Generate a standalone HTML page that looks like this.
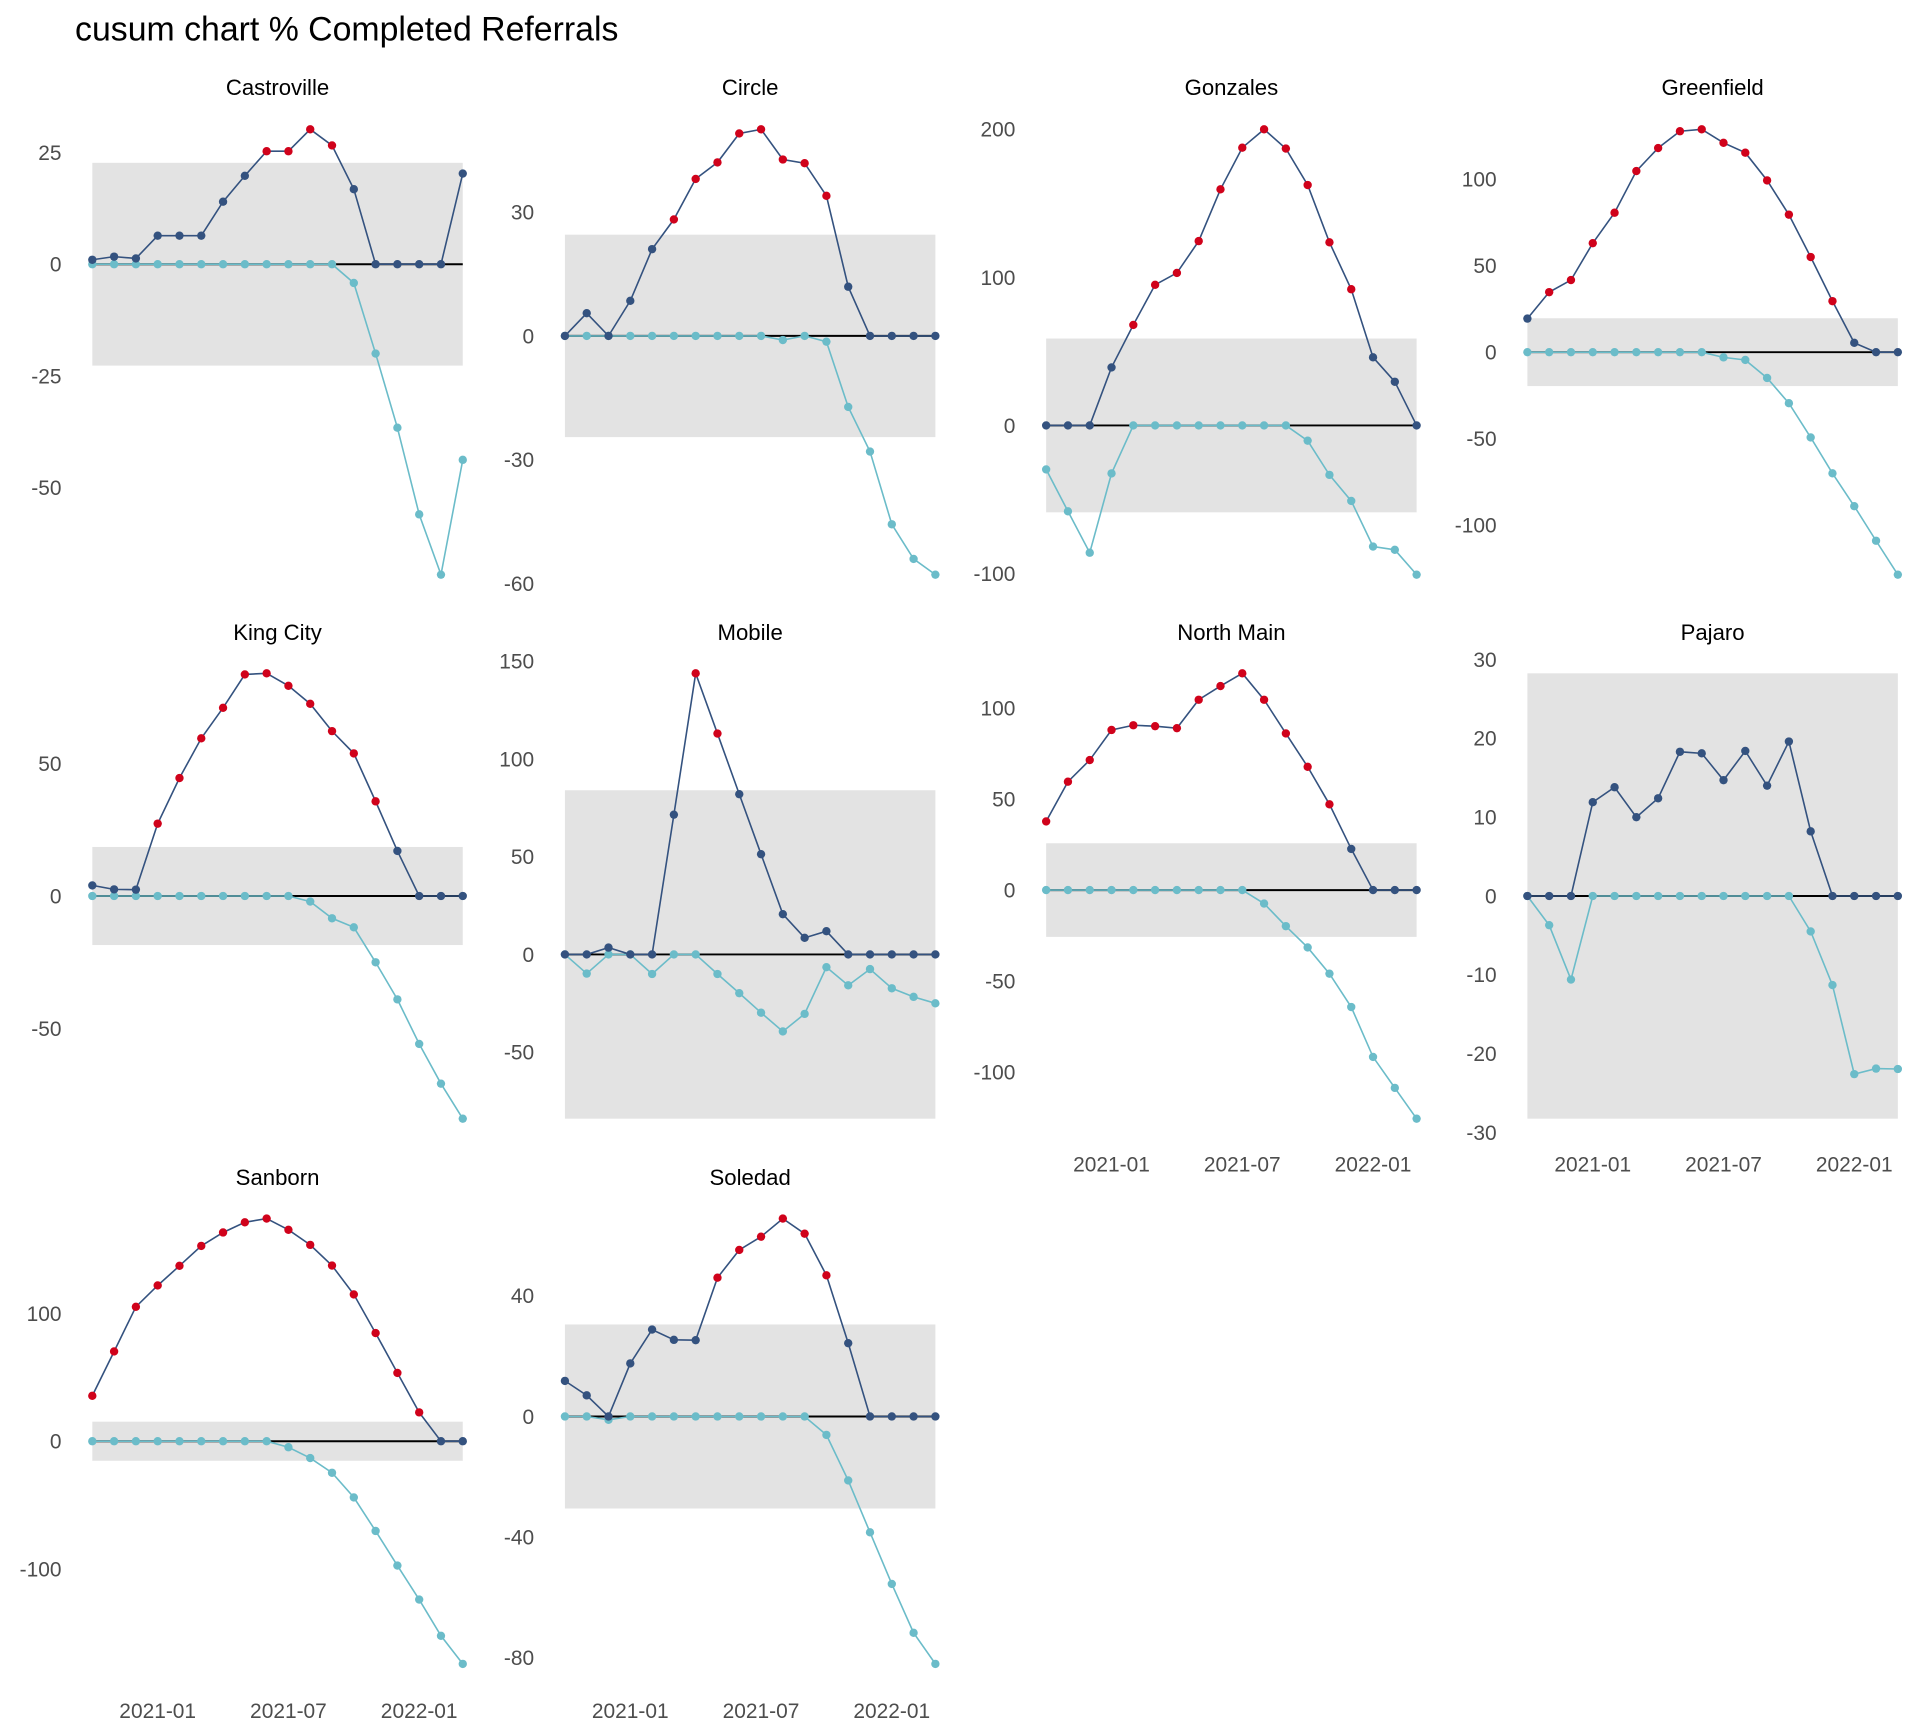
<!DOCTYPE html>
<html><head><meta charset="utf-8"><style>
html,body{margin:0;padding:0;background:#fff}
svg{display:block}
text{font-family:"Liberation Sans",Arial,sans-serif}
</style></head><body>
<svg id="chart" width="1920" height="1728" viewBox="0 0 1560 1404" xmlns="http://www.w3.org/2000/svg">
<rect width="1560" height="1404" fill="#fff"/>
<text x="61" y="33" font-size="27.5" fill="#000">cusum chart % Completed Referrals</text>
</svg>
<script>
const months = ["2020-10","2020-11","2020-12","2021-01","2021-02","2021-03","2021-04","2021-05","2021-06","2021-07","2021-08","2021-09","2021-10","2021-11","2021-12","2022-01","2022-02","2022-03"];
const xTickLabels = ["2021-01","2021-07","2022-01"];
const xTickIndex = [3,9,15];
const panelNames = ["Castroville","Circle","Gonzales","Greenfield","King City","Mobile","North Main","Pajaro","Sanborn","Soledad"];
const limits = [22.7,24.5,58.7,19.6,18.5,84,25.7,28.25,15.3,30.5];
const upperCastroville = [1,1.7,1.3,6.4,6.4,6.4,14,19.8,25.3,25.3,30.2,26.6,16.8,0,0,0,0,20.3];
const lowerCastroville = [0,0,0,0,0,0,0,0,0,0,0,0,-4.2,-20,-36.6,-56,-69.5,-43.8];
const upperCircle = [0,5.5,0,8.5,21,28.2,38,42,49,50,42.7,41.8,33.9,11.9,0,0,0,0];
const lowerCircle = [0,0,0,0,0,0,0,0,0,0,-1,0,-1.4,-17.2,-28,-45.6,-54,-57.8];
const upperGonzales = [0,0,0,39.2,67.9,95,103,124.5,159.5,187.6,200,187,162.4,123.7,92,46,29.5,0];
const lowerGonzales = [-29.7,-58,-86,-32.4,0,0,0,0,0,0,0,0,-10.3,-33.4,-51,-81.8,-84,-100.8];
const upperGreenfield = [19.4,34.7,41.7,63,80.6,104.7,118,127.7,128.8,121,115.3,99.3,79.5,55,29.5,5.4,0,0];
const lowerGreenfield = [0,0,0,0,0,0,0,0,0,-3,-4.5,-14.9,-29.5,-49.3,-70,-89,-109,-128.6];
const upperKingCity = [4,2.5,2.4,27.3,44.5,59.5,71,83.6,84,79.3,72.5,62.2,53.8,35.7,17,0,0,0];
const lowerKingCity = [0,0,0,0,0,0,0,0,0,0,-2.1,-8.4,-11.8,-25,-39,-55.8,-70.8,-84];
const upperMobile = [0,0,3.5,0,0,71.5,143.8,113,82,51.3,20.6,8.5,11.9,0,0,0,0,0];
const lowerMobile = [0,-9.8,0,0,-10,0,0,-10,-19.8,-29.8,-39.4,-30.4,-6.5,-15.8,-7.5,-17.3,-21.7,-25];
const upperNorthMain = [37.7,59.5,71.4,87.9,90.5,90,88.9,104.5,112,119,104.5,86,67.7,47.1,22.6,0,0,0];
const lowerNorthMain = [0,0,0,0,0,0,0,0,0,0,-7.4,-19.8,-31.5,-45.9,-64.2,-91.6,-108.6,-125.5];
const upperPajaro = [0,0,0,11.9,13.8,10,12.4,18.3,18.1,14.7,18.4,14,19.6,8.2,0,0,0,0];
const lowerPajaro = [0,-3.7,-10.6,0,0,0,0,0,0,0,0,0,0,-4.5,-11.3,-22.6,-21.9,-21.95];
const upperSanborn = [35.6,70.3,105.3,122,137.4,153,163.5,171.5,174.4,165.6,153.8,137.6,115,84.7,53.5,22.6,0,0];
const lowerSanborn = [0,0,0,0,0,0,0,0,0,-4.7,-13.2,-24.7,-44,-70.3,-97.4,-124,-152.4,-174.4];
const upperSoledad = [11.8,7,0,17.6,28.8,25.4,25.3,46,55.2,59.6,65.6,60.6,46.8,24.3,0,0,0,0];
const lowerSoledad = [0,0,-1.1,0,0,0,0,0,0,0,0,0,-6.1,-21.2,-38.4,-55.5,-71.7,-82];
const yTicksCastroville = [25,0,-25,-50];
const yTicksCircle = [30,0,-30,-60];
const yTicksGonzales = [200,100,0,-100];
const yTicksGreenfield = [100,50,0,-50,-100];
const yTicksKingCity = [50,0,-50];
const yTicksMobile = [150,100,50,0,-50];
const yTicksNorthMain = [100,50,0,-50,-100];
const yTicksPajaro = [30,20,10,0,-10,-20,-30];
const yTicksSanborn = [100,0,-100];
const yTicksSoledad = [40,0,-40,-80];

const uppers=[upperCastroville,upperCircle,upperGonzales,upperGreenfield,upperKingCity,upperMobile,upperNorthMain,upperPajaro,upperSanborn,upperSoledad];
const lowers=[lowerCastroville,lowerCircle,lowerGonzales,lowerGreenfield,lowerKingCity,lowerMobile,lowerNorthMain,lowerPajaro,lowerSanborn,lowerSoledad];
const yticks=[yTicksCastroville,yTicksCircle,yTicksGonzales,yTicksGreenfield,yTicksKingCity,yTicksMobile,yTicksNorthMain,yTicksPajaro,yTicksSanborn,yTicksSoledad];

const NS="http://www.w3.org/2000/svg";
const svg=document.getElementById('chart');
const colX=[75,459,850,1241], colW=301;
const rowTop=[87,529,972], rowH=398, titleY=[77,520,963];
const xLabelRow=[null,952,1396];
function mk(tag,attrs,parent){const e=document.createElementNS(NS,tag);for(const k in attrs)e.setAttribute(k,attrs[k]);(parent||svg).appendChild(e);return e;}
function slug(s){return s.toLowerCase().replace(/\s+/g,'-');}

panelNames.forEach((name,p)=>{
  const r=Math.floor(p/4), c=p%4;
  const x0=colX[c], top=rowTop[r];
  const up=uppers[p], lo=lowers[p], L=limits[p];
  let mx=Math.max(L,...up,...lo), mn=Math.min(-L,...up,...lo);
  const pad=(mx-mn)*0.05; mx+=pad; mn-=pad;
  const xs=i=>x0+i*colW/(months.length-1);
  const ys=v=>top+(mx-v)/(mx-mn)*rowH;
  const g=mk('g',{});
  
  
  const t=mk('text',{x:x0+colW/2,y:titleY[r],'font-size':18,'text-anchor':'middle',fill:'#000'},g);
  t.textContent=name;
  
  
  const band=mk('rect',{x:xs(0),y:ys(L),width:colW,height:ys(-L)-ys(L),fill:'#e3e3e3'},g);
  
  
  yticks[p].forEach(v=>{
    const tl=mk('text',{x:x0-25,y:ys(v)+6,'font-size':17,'text-anchor':'end',fill:'#4d4d4d'},g);
    tl.textContent=String(v);
    
    
  });
  const zl=mk('line',{x1:xs(0),x2:xs(months.length-1),y1:ys(0),y2:ys(0),stroke:'#000','stroke-width':1.6},g);
  
  
  const lp=mk('polyline',{points:lo.map((v,i)=>xs(i)+','+ys(v)).join(' '),fill:'none',stroke:'#6bbcc9','stroke-width':1.3},g);
  
  
  lo.forEach((v,i)=>{
    const d=mk('circle',{cx:xs(i),cy:ys(v),r:3.4,fill:'#6bbcc9'},g);
    
    
  });
  const upl=mk('polyline',{points:up.map((v,i)=>xs(i)+','+ys(v)).join(' '),fill:'none',stroke:'#34527f','stroke-width':1.3},g);
  
  
  up.forEach((v,i)=>{
    const d=mk('circle',{cx:xs(i),cy:ys(v),r:3.4,fill:v>L?'#d0021b':'#34527f'},g);
    
    
  });
  const showX = (r===2) || (r===1 && c>=2);
  if(showX){
    xTickIndex.forEach((idx,k)=>{
      const xl=mk('text',{x:xs(idx),y:xLabelRow[r],'font-size':17,'text-anchor':'middle',fill:'#4d4d4d'},g);
      xl.textContent=xTickLabels[k];
      
      
    });
  }
});
</script>
</body></html>
